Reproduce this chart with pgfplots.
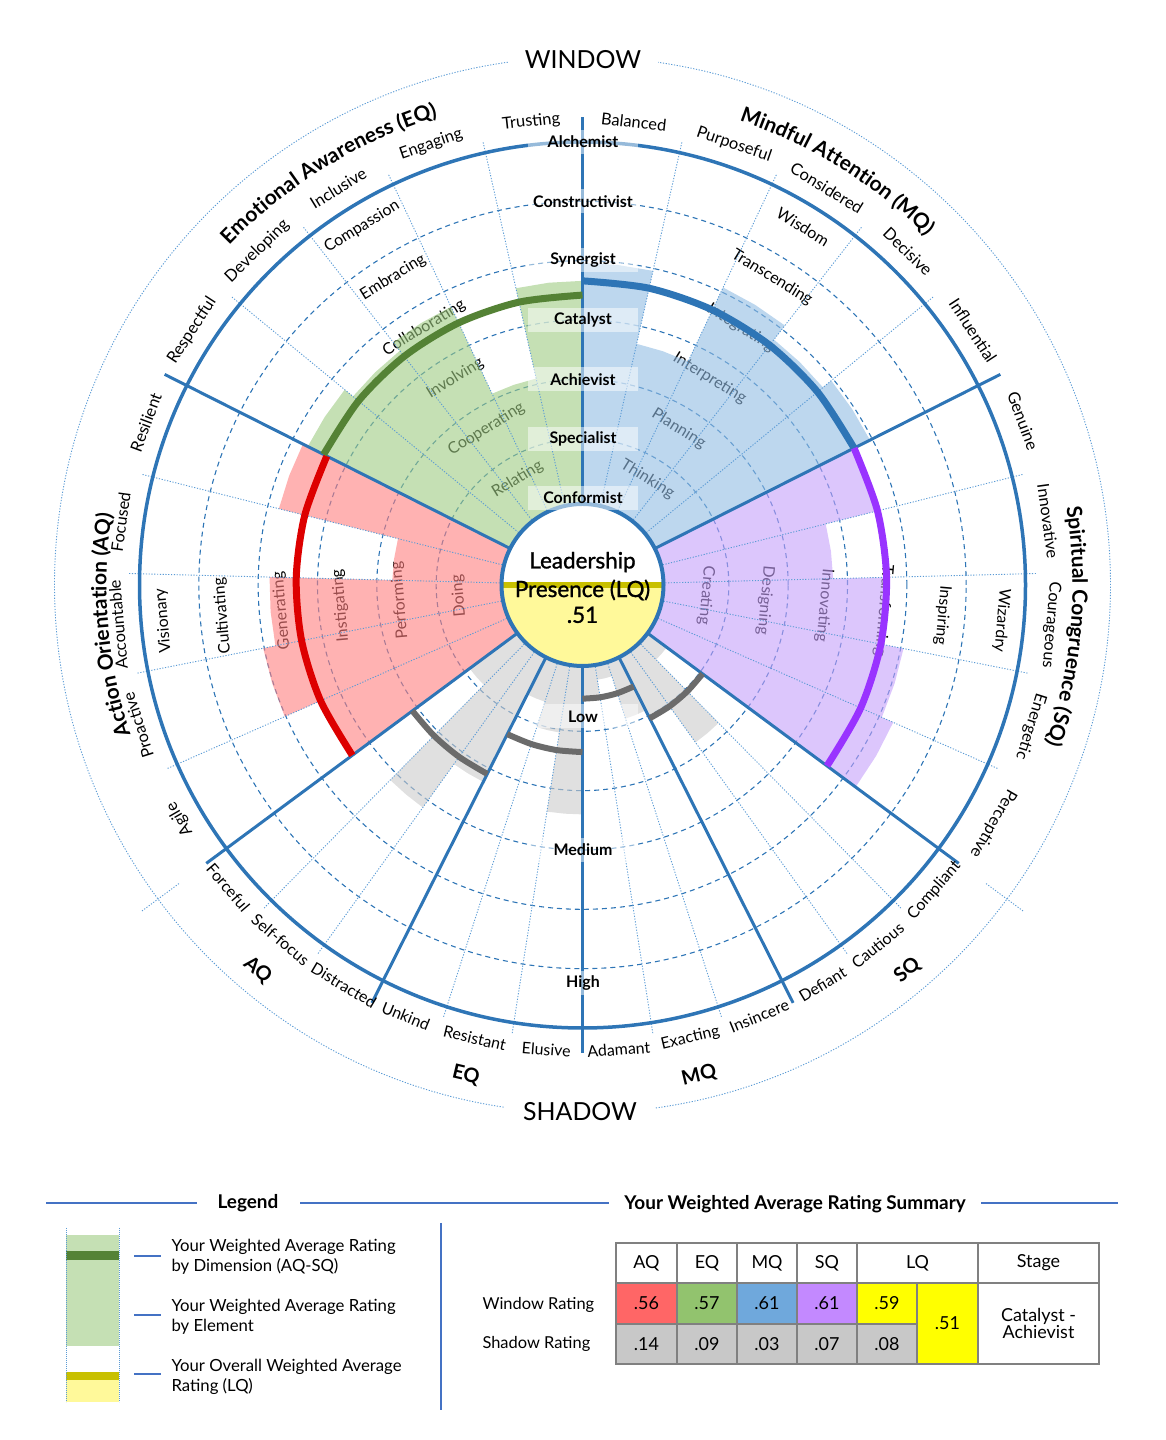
\documentclass[border=0pt]{standalone}
\usepackage{fontspec}
\setmainfont{Lato}
\newfontfamily\latomed[FakeBold=1.2]{Lato}
\usepackage{pgfplots}
\pgfplotsset{compat=1.18}
\usepgfplotslibrary{polar}
\usetikzlibrary{decorations.text}

\definecolor{lineblue}{HTML}{2E75B6}
\definecolor{spokeblue}{HTML}{5B9BD5}
\definecolor{legblue}{HTML}{4472C4}
\definecolor{aqfill}{RGB}{255,127,127}
\definecolor{eqfill}{RGB}{158,203,130}
\definecolor{mqfill}{RGB}{145,188,227}
\definecolor{sqfill}{RGB}{197,160,250}
\definecolor{shfill}{RGB}{203,203,203}
\definecolor{aqline}{HTML}{DD0000}
\definecolor{eqline}{HTML}{548235}
\definecolor{mqline}{HTML}{2E75B6}
\definecolor{sqline}{HTML}{9933FF}
\definecolor{shline}{HTML}{6B6B6B}
\definecolor{eqlight}{RGB}{197,224,180}
\definecolor{lqfill}{HTML}{FFF99A}
\definecolor{lqline}{HTML}{C8C000}
\definecolor{aqcell}{HTML}{FF6666}
\definecolor{eqcell}{HTML}{92C36E}
\definecolor{mqcell}{HTML}{6FA8DC}
\definecolor{sqcell}{HTML}{C389FF}
\definecolor{lqcell}{HTML}{FFFF00}
\definecolor{shcell}{HTML}{C8C8C8}
\definecolor{tgray}{HTML}{808080}

\newcommand{\fs}[1]{\fontsize{#1}{#1}\selectfont}

% one element bar: style, start angle, angular width, rating
\newcommand{\ebar}[4]{%
  \pgfmathsetmacro\eA{#2}\pgfmathsetmacro\eM{#2+#3/2}\pgfmathsetmacro\eB{#2+#3}%
  \edef\next{\noexpand\addplot[#1] coordinates {(\eA,-0.09) (\eA,#4) (\eM,#4) (\eB,#4) (\eB,-0.09)};}\next}

% table cell
\newcommand{\cell}[6]{%
  \filldraw[fill=#5, draw=tgray, line width=1.5bp] (#1,#2) rectangle (#3,#4);
  \node[font=\fs{18}, align=center] at ({(#1+#3)/2},{(#2+#4)/2}) {#6};}

\tikzset{
  inlab/.style={font=\fs{16}},
  olab/.style={font=\fs{16.5}},
  lvl/.style={font=\bfseries\fs{16}, fill=white, fill opacity=0.5, text opacity=1,
    minimum width=110bp, minimum height=24bp, inner sep=1bp},
}

\begin{document}
\begin{tikzpicture}[x=1bp,y=1bp]
\path[use as bounding box] (0,0) rectangle (1165,1440);
\coordinate (C) at (582.5,855);

% capability labels, under the bars
\foreach \t [count=\k from 0] in {Doing,Performing,Instigating,Generating,Cultivating,Visionary}
  \path (C) ++(184.875:{124+59.33*\k}) node[inlab,rotate=94.875] {\t};
\foreach \t [count=\k from 0] in {Relating,Cooperating,Involving,Collaborating,Embracing,Compassion}
  \path (C) ++(121.625:{124+59.33*\k}) node[inlab,rotate=31.625] {\t};
\foreach \t [count=\k from 0] in {Thinking,Planning,Interpreting,Integrating,Transcending,Wisdom}
  \path (C) ++(58.375:{124+59.33*\k}) node[inlab,rotate=-31.625] {\t};
\foreach \t [count=\k from 0] in {Creating,Designing,Innovating,Transforming,Inspiring,Wizardry}
  \path (C) ++(-4.875:{124+59.33*\k}) node[inlab,rotate=-94.875] {\t};

\begin{polaraxis}[
  at={(C)}, anchor=center,
  scale only axis, width=1056bp, height=1056bp,
  xmin=0, xmax=360, ymin=0, ymax=528,
  enlargelimits=false,
  axis line style={draw=none},
  tick style={draw=none},
  xtick=\empty,
  ytick={146.33,205.67,265,324.33,383.67},
  yticklabels={},
  ymajorgrids,
  major grid style={lineblue, line width=1.1bp, dash pattern=on 5bp off 4bp},
  clip=false,
  wbar/.style={draw=none, fill=#1, fill opacity=0.6, y filter/.expression={87+356*y}},
  sbar/.style={draw=none, fill=shfill, fill opacity=0.6, y filter/.expression={87+890*y}},
  warc/.style={draw=#1, line width=7bp, smooth, y filter/.expression={87+356*y}},
  sarc/.style={draw=shline, line width=6bp, smooth, y filter/.expression={87+890*y}},
  spoke/.style={draw=spokeblue, line width=0.9bp, dash pattern=on 1.2bp off 1.6bp},
  bound/.style={draw=lineblue, line width=3bp},
]
% Action Orientation (AQ), window elements
\ebar{wbar=aqfill}{153.25}{12.65}{0.635}
\ebar{wbar=aqfill}{165.9}{12.65}{0.29}
\ebar{wbar=aqfill}{178.55}{12.65}{0.635}
\ebar{wbar=aqfill}{191.2}{12.65}{0.67}
\ebar{wbar=aqfill}{203.85}{12.65}{0.56}
% Emotional Awareness (EQ)
\ebar{wbar=eqfill}{90}{12.65}{0.61}
\ebar{wbar=eqfill}{102.65}{12.65}{0.35}
\ebar{wbar=eqfill}{115.3}{12.65}{0.62}
\ebar{wbar=eqfill}{127.95}{12.65}{0.59}
\ebar{wbar=eqfill}{140.6}{12.65}{0.62}
% Mindful Attention (MQ)
\ebar{wbar=mqfill}{26.75}{12.65}{0.66}
\ebar{wbar=mqfill}{39.4}{12.65}{0.63}
\ebar{wbar=mqfill}{52.05}{12.65}{0.68}
\ebar{wbar=mqfill}{64.7}{12.65}{0.45}
\ebar{wbar=mqfill}{77.35}{12.65}{0.66}
% Spiritual Congruence (SQ)
\ebar{wbar=sqfill}{-36.5}{12.65}{0.71}
\ebar{wbar=sqfill}{-23.85}{12.65}{0.675}
\ebar{wbar=sqfill}{-11.2}{12.65}{0.61}
\ebar{wbar=sqfill}{1.45}{12.65}{0.46}
\ebar{wbar=sqfill}{14.1}{12.65}{0.61}
% shadow elements
\ebar{sbar}{216.5}{8.9167}{0.06}
\ebar{sbar}{225.4167}{8.9167}{0.21}
\ebar{sbar}{234.3333}{8.9167}{0.15}
\ebar{sbar}{243.25}{8.9167}{0.04}
\ebar{sbar}{252.1667}{8.9167}{0.07}
\ebar{sbar}{261.0833}{8.9167}{0.16}
\ebar{sbar}{270}{8.9167}{0.03}
\ebar{sbar}{278.9167}{8.9167}{0.01}
\ebar{sbar}{287.8333}{8.9167}{0.06}
\ebar{sbar}{296.75}{8.9167}{0.07}
\ebar{sbar}{305.6667}{8.9167}{0.12}
\ebar{sbar}{314.5833}{8.9167}{0.02}

% element spokes
\pgfplotsinvokeforeach{102.65,115.3,127.95,140.6,165.9,178.55,191.2,203.85,39.4,52.05,64.7,77.35,-23.85,-11.2,1.45,14.1,225.4167,234.3333,252.1667,261.0833,278.9167,287.8333,305.6667,314.5833}{
  \addplot[spoke] coordinates {(#1,80) (#1,455)};
}
\addplot[spoke] coordinates {(216.5,502) (216.5,548)};
\addplot[spoke] coordinates {(323.5,502) (323.5,548)};
% dimension boundaries
\pgfplotsinvokeforeach{26.75,90,153.25,216.5,243.25,270,296.75,323.5}{
  \addplot[bound] coordinates {(#1,80) (#1,468)};
}

% dimension averages, window
\addplot[warc=aqline] coordinates {(153.25,0.56) (165.9,0.56) (178.55,0.56) (191.2,0.56) (203.85,0.56) (216.5,0.56)};
\addplot[warc=eqline] coordinates {(90,0.57) (102.65,0.57) (115.3,0.57) (127.95,0.57) (140.6,0.57) (153.25,0.57)};
\addplot[warc=mqline] coordinates {(26.75,0.61) (39.4,0.61) (52.05,0.61) (64.7,0.61) (77.35,0.61) (90,0.61)};
\addplot[warc=sqline] coordinates {(-36.5,0.61) (-23.85,0.61) (-11.2,0.61) (1.45,0.61) (14.1,0.61) (26.75,0.61)};
% dimension averages, shadow
\addplot[sarc] coordinates {(216.5,0.14) (225.4167,0.14) (234.3333,0.14) (243.25,0.14)};
\addplot[sarc] coordinates {(243.25,0.09) (252.1667,0.09) (261.0833,0.09) (270,0.09)};
\addplot[sarc] coordinates {(270,0.03) (278.9167,0.03) (287.8333,0.03) (296.75,0.03)};
\addplot[sarc] coordinates {(296.75,0.07) (305.6667,0.07) (314.5833,0.07) (323.5,0.07)};
\end{polaraxis}

% rings
\draw[lineblue, line width=3.5bp] (C) circle[radius=443];
\draw[spokeblue, line width=0.9bp, dash pattern=on 1.2bp off 1.6bp] (C) circle[radius=528];

% centre: overall rating
\begin{scope}
  \clip (C) circle[radius=81];
  \fill[white] (C) circle[radius=81];
  \fill[lqfill] ([shift={(-90,-90)}]C) rectangle ([shift={(90,0)}]C);
  \draw[lqline, line width=6bp] ([shift={(-90,0)}]C) -- ([shift={(90,0)}]C);
\end{scope}
\draw[lineblue, line width=4bp] (C) circle[radius=81];
\node[font=\latomed\fs{22.5}] at ([yshift=23]C) {Leadership};
\node[font=\latomed\fs{22.5}] at ([yshift=-5]C) {Presence (LQ)};
\node[font=\latomed\fs{22.5}] at ([yshift=-30]C) {.51};

% outer element labels, window
\foreach \a/\t in {159.575/Resilient,172.225/Focused,184.875/Accountable,197.525/Proactive,210.175/Agile,
  96.325/Trusting,108.975/Engaging,121.625/Inclusive,134.275/Developing,146.925/Respectful,
  83.675/Balanced,71.025/Purposeful,58.375/Considered,45.725/Decisive,33.075/Influential}
  \path (C) ++(\a:466) node[olab,rotate=\a-90] {\t};
\foreach \a/\t/\r in {20.425/Genuine/470,7.775/Innovative/470,-4.875/Courageous/470,-17.525/Energetic/470,-30.175/Perceptive/475}
  \path (C) ++(\a:\r) node[olab,rotate=\a-90] {\t};
% outer element labels, shadow
\foreach \a/\t in {220.5/Forceful,229.6/Self-focus,239.2/Distracted,247.708/Unkind,256.625/Resistant,265.542/Elusive,
  274.458/Adamant,283.375/Exacting,292.292/Insincere,301.0/Defiant,309.3/Cautious,319.0/Compliant}
  \path (C) ++(\a:466) node[olab,font=\fs{16},rotate=\a+90] {\t};

% dimension titles
\path[decorate, decoration={text along path, text align=center,
  text={|\bfseries\fs{21}|Emotional Awareness (EQ)}}] (C) ++(153.25:490) arc[start angle=153.25, end angle=90, radius=490];
\path[decorate, decoration={text along path, text align=center,
  text={|\bfseries\fs{21}|Mindful Attention (MQ)}}] (C) ++(90:490) arc[start angle=90, end angle=26.75, radius=490];
\path[decorate, decoration={text along path, text align=center,
  text={|\bfseries\fs{21}|Action Orientation (AQ)}}] (C) ++(216.5:476) arc[start angle=216.5, end angle=153.25, radius=476];
\path[decorate, decoration={text along path, text align=center,
  text={|\bfseries\fs{21}|Spiritual Congruence (SQ)}}] (C) ++(26.75:490) arc[start angle=26.75, end angle=-36.5, radius=490];
\foreach \a/\t in {229.875/AQ,256.625/EQ,283.375/MQ,310.125/SQ}
  \path (C) ++(\a:504) node[font=\bfseries\fs{20},rotate=\a+90] {\t};

% everything below is placed in picture (pixel) coordinates, y downwards
\begin{scope}[shift={(0,1440)}, yscale=-1]
  \node[font=\fs{25}, fill=white, minimum width=150bp, minimum height=30bp] at (583,60) {WINDOW};
  \node[font=\fs{25}, fill=white, minimum width=150bp, minimum height=30bp] at (580,1112) {SHADOW};
  % stage and shadow-level labels
  \foreach \y/\t in {498/Conformist,439/Specialist,379.5/Achievist,320/Catalyst,260.5/Synergist,201.5/Constructivist,142/Alchemist,
    716.5/Low,850/Medium,983.5/High}
    \node[lvl] at (583,\y) {\t};

  % legend
  \draw[legblue, line width=1.2bp] (46,1203) -- (197,1203) (300,1203) -- (609,1203) (981,1203) -- (1118,1203);
  \node[font=\bfseries\fs{19}] at (248,1203) {Legend};
  \node[font=\bfseries\fs{19}] at (795,1204) {Your Weighted Average Rating Summary};
  \fill[eqlight] (66,1235) rectangle (119,1346);
  \fill[eqline] (66,1251) rectangle (119,1260);
  \fill[lqline] (66,1372) rectangle (119,1380);
  \fill[lqfill] (66,1380) rectangle (119,1402);
  \draw[spokeblue, line width=0.8bp, dash pattern=on 1bp off 1bp] (66,1228) -- (66,1402) (119,1228) -- (119,1402);
  \draw[legblue, line width=1.2bp] (134,1256) -- (161,1256) (134,1315) -- (161,1315) (134,1374) -- (161,1374);
  \node[anchor=west, align=left, font=\fontsize{16.8}{20}\selectfont] at (168,1257) {Your Weighted Average Rating\\by Dimension (AQ-SQ)};
  \node[anchor=west, align=left, font=\fontsize{16.8}{20}\selectfont] at (168,1317) {Your Weighted Average Rating\\by Element};
  \node[anchor=west, align=left, font=\fontsize{16.8}{20}\selectfont] at (168,1377) {Your Overall Weighted Average\\Rating (LQ)};
  \draw[legblue, line width=1.2bp] (441,1223) -- (441,1410);

  % summary table
  \node[anchor=west, font=\fs{16.5}] at (479,1305) {Window Rating};
  \node[anchor=west, font=\fs{16.5}] at (479,1344) {Shadow Rating};
  \cell{616}{1243}{677}{1283}{white}{AQ}
  \cell{677}{1243}{737}{1283}{white}{EQ}
  \cell{737}{1243}{797}{1283}{white}{MQ}
  \cell{797}{1243}{857}{1283}{white}{SQ}
  \cell{857}{1243}{978}{1283}{white}{LQ}
  \cell{978}{1243}{1099}{1283}{white}{Stage}
  \cell{616}{1283}{677}{1324}{aqcell}{.56}
  \cell{677}{1283}{737}{1324}{eqcell}{.57}
  \cell{737}{1283}{797}{1324}{mqcell}{.61}
  \cell{797}{1283}{857}{1324}{sqcell}{.61}
  \cell{857}{1283}{917}{1324}{lqcell}{.59}
  \cell{616}{1324}{677}{1364}{shcell}{.14}
  \cell{677}{1324}{737}{1364}{shcell}{.09}
  \cell{737}{1324}{797}{1364}{shcell}{.03}
  \cell{797}{1324}{857}{1364}{shcell}{.07}
  \cell{857}{1324}{917}{1364}{shcell}{.08}
  \cell{917}{1283}{978}{1364}{lqcell}{.51}
  \cell{978}{1283}{1099}{1364}{white}{Catalyst -\\Achievist}
\end{scope}
\end{tikzpicture}
\end{document}
